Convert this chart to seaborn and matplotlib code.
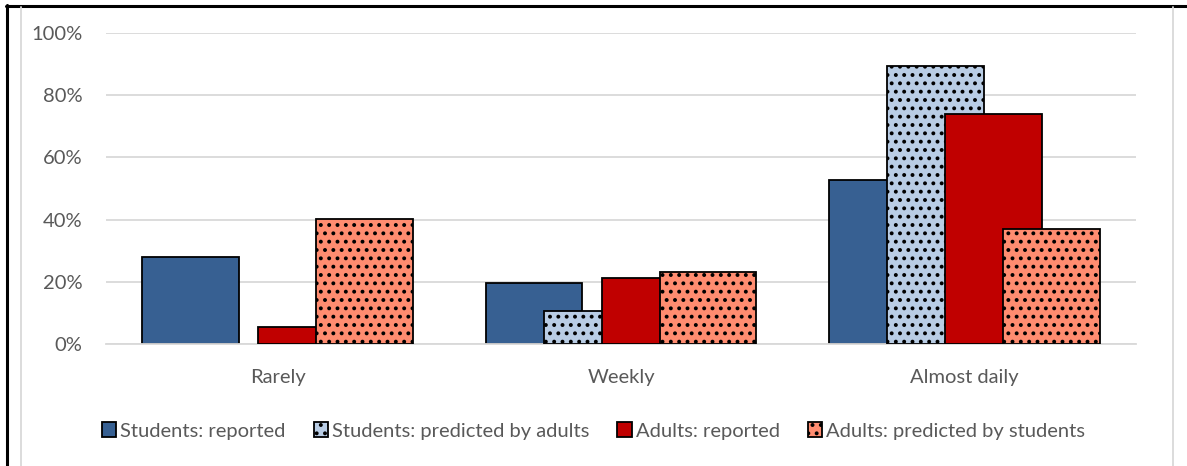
import numpy as np
import pandas as pd
import matplotlib
matplotlib.use("Agg")
import matplotlib.pyplot as plt
from matplotlib.lines import Line2D
from matplotlib.ticker import PercentFormatter
import seaborn as sns

categories = ["Rarely", "Weekly", "Almost daily"]
series = ["Students: reported", "Students: predicted by adults",
          "Adults: reported", "Adults: predicted by students"]
students_reported = [28.0, 19.6, 52.6]
students_predicted = [0.0, 10.6, 89.3]
adults_reported = [5.4, 21.2, 73.8]
adults_predicted = [40.2, 23.1, 37.0]

colors = ["#376092", "#B9CDE5", "#C00000", "#FF8C70"]
hatches = [None, "..", None, ".."]

sns.set_theme(style="white")
plt.rcParams["font.family"] = ["Lato", "DejaVu Sans"]
plt.rcParams["hatch.linewidth"] = 1.6
plt.rcParams["hatch.color"] = "black"

rows = []
for s, vals in zip(series, [students_reported, students_predicted,
                            adults_reported, adults_predicted]):
    for c, v in zip(categories, vals):
        rows.append({"category": c, "series": s, "value": v})
df = pd.DataFrame(rows)

W, H = 1187, 466
fig = plt.figure(figsize=(W / 100, H / 100), dpi=100)
ax = fig.add_axes([106 / W, 1 - 344 / H, (1136 - 106) / W, (344 - 33) / H])

step = 0.169
bar_w = 0.282
sns.barplot(data=df, x="category", y="value", hue="series", order=categories,
            hue_order=series, palette=colors, width=4 * step, ax=ax,
            edgecolor="black", linewidth=1.3, errorbar=None, legend=False,
            saturation=1)

# Widen bars so neighbouring bars overlap (later series drawn on top)
n = len(categories)
for i, patch in enumerate(ax.patches):
    k = i // n
    cx = patch.get_x() + patch.get_width() / 2
    patch.set_x(cx - bar_w / 2)
    patch.set_width(bar_w)
    patch.set_zorder(2 + k)
    if hatches[k]:
        patch.set_hatch(hatches[k])
    if patch.get_height() == 0:
        patch.set_visible(False)

ax.set_ylim(0, 100)
ax.set_xlim(-0.5, 2.5)
ax.set_yticks(np.arange(0, 101, 20))
ax.yaxis.set_major_formatter(PercentFormatter(decimals=0))
ax.grid(axis="y", color="#D9D9D9", linewidth=1.3, zorder=0)
ax.set_axisbelow(True)
for side in ["top", "right", "left"]:
    ax.spines[side].set_visible(False)
ax.spines["bottom"].set_color("#D9D9D9")
ax.spines["bottom"].set_linewidth(1.3)
ax.set_xlabel("")
ax.set_ylabel("")
ax.tick_params(axis="both", length=0, labelsize=14.5, labelcolor="#595959")
ax.tick_params(axis="y", pad=17)
ax.tick_params(axis="x", pad=18)

handles = []
for c, h in zip(colors, hatches):
    handles.append(plt.Rectangle((0, 0), 1, 1, facecolor=c, edgecolor="black",
                                 linewidth=1.3, hatch=h))
fig.legend(handles, series, loc="center", bbox_to_anchor=(0.5, 1 - 431 / H),
           ncol=4, frameon=False, fontsize=14.5, labelcolor="#595959",
           handlelength=0.7, handleheight=0.7, handletextpad=0.2,
           columnspacing=1.4)

# Surrounding frame lines
def fx(x):
    return x / W

def fy(y):
    return 1 - y / H

fig.add_artist(Line2D([fx(6), fx(1187)], [fy(6), fy(6)], color="black", lw=2.2))
fig.add_artist(Line2D([fx(6.5), fx(6.5)], [fy(5), fy(466)], color="black", lw=2.2))
fig.add_artist(Line2D([fx(20.5), fx(20.5)], [fy(7), fy(466)], color="#D9D9D9", lw=1.3))
fig.add_artist(Line2D([fx(1173), fx(1173)], [fy(7), fy(466)], color="#D9D9D9", lw=1.3))

fig.savefig("out.png", dpi=100)
